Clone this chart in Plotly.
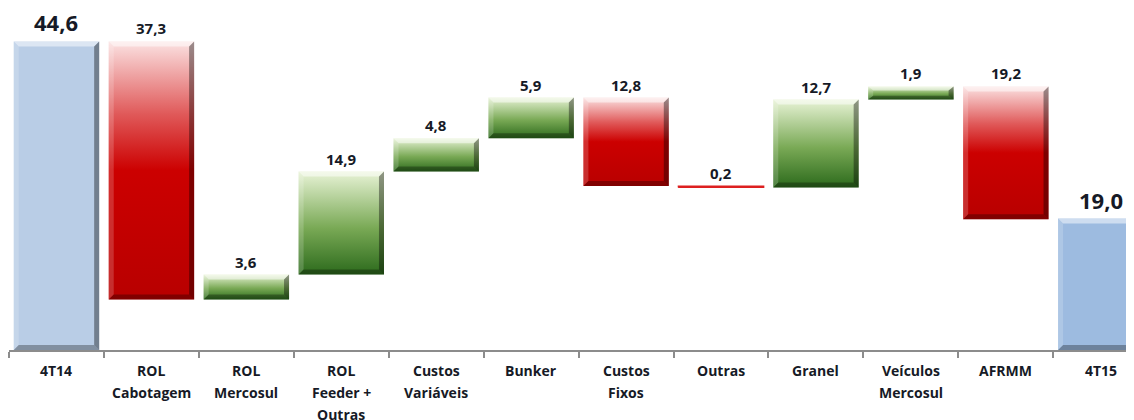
import plotly.graph_objects as go

# ---- data ----
categories = ["4T14", "ROL<br>Cabotagem", "ROL<br>Mercosul", "ROL<br>Feeder +<br>Outras",
              "Custos<br>Variáveis", "Bunker", "Custos<br>Fixos", "Outras", "Granel",
              "Veículos<br>Mercosul", "AFRMM", "4T15"]
values = [44.6, -37.3, 3.6, 14.9, 4.8, 5.9, -12.8, -0.2, 12.7, 1.9, -19.2, 19.0]
measures = ["total", "relative", "relative", "relative", "relative", "relative",
            "relative", "relative", "relative", "relative", "relative", "total"]

# ---- style ----
HALF = 0.45
BX = 0.053
BY = 0.72
blue_colors = {0: "#b9cde6", 11: "#9dbbe0"}
green_scale = [[0, "#2c6a1c"], [0.45, "#79a955"], [1, "#e8f3d6"]]
red_scale = [[0, "#b80000"], [0.5, "#cc0000"], [0.72, "#e05a5a"], [1, "#fbe2e2"]]
FONT = "Open Sans"
TXT = "#161a26"

fig = go.Figure()

running = 0.0
bars = []
for i, (v, m) in enumerate(zip(values, measures)):
    if m == "total":
        y0, y1 = 0.0, v
        running = v
    else:
        prev = running
        running = prev + v
        y0, y1 = min(prev, running), max(prev, running)
    bars.append((i, y0, y1, v, m))

top_pts = {"x": [], "y": []}
right_pts = {"x": [], "y": []}
bot_pts = {"x": [], "y": []}
left_pts = {"x": [], "y": []}

def add_poly(store, pts):
    for px, py in pts:
        store["x"].append(px)
        store["y"].append(py)
    store["x"].append(pts[0][0]); store["y"].append(pts[0][1])
    store["x"].append(None); store["y"].append(None)

for i, y0, y1, v, m in bars:
    x0, x1 = i - HALF, i + HALF
    xs = [x0, x1, x1, x0, x0]
    ys = [y0, y0, y1, y1, y0]
    if m == "total":
        fig.add_trace(go.Scatter(x=xs, y=ys, mode="lines", fill="toself",
                                 fillcolor=blue_colors[i], line=dict(width=0),
                                 hoverinfo="skip", showlegend=False))
    else:
        scale = green_scale if v > 0 else red_scale
        lw = 1.2 if (y1 - y0) < 0.5 else 0
        fig.add_trace(go.Scatter(x=xs, y=ys, mode="lines", fill="toself",
                                 fillgradient=dict(type="vertical", colorscale=scale,
                                                   start=y0, stop=y1),
                                 line=dict(width=lw, color="#dd2020"),
                                 hoverinfo="skip", showlegend=False))
    h = y1 - y0
    if h > 0.5:
        by = min(BY, h * 0.3)
        add_poly(top_pts, [(x0, y1), (x1, y1), (x1 - BX, y1 - by), (x0 + BX, y1 - by)])
        add_poly(right_pts, [(x1, y1), (x1, y0), (x1 - BX, y0 + by), (x1 - BX, y1 - by)])
        add_poly(bot_pts, [(x0, y0), (x1, y0), (x1 - BX, y0 + by), (x0 + BX, y0 + by)])
        add_poly(left_pts, [(x0, y0), (x0, y1), (x0 + BX, y1 - by), (x0 + BX, y0 + by)])

for store, col in [(top_pts, "rgba(255,255,255,0.5)"), (left_pts, "rgba(255,255,255,0.18)"),
                   (right_pts, "rgba(0,0,0,0.38)"), (bot_pts, "rgba(0,0,0,0.3)")]:
    fig.add_trace(go.Scatter(x=store["x"], y=store["y"], mode="lines", fill="toself",
                             fillcolor=col, line=dict(width=0), hoverinfo="skip",
                             showlegend=False, connectgaps=False))

# value labels
for i, y0, y1, v, m in bars:
    txt = f"{abs(v):.1f}".replace(".", ",")
    big = m == "total"
    fig.add_annotation(x=i, y=y1, xref="x", yref="y", text=f"<b>{txt}</b>",
                       showarrow=False, yanchor="bottom",
                       yshift=2 if big else 1,
                       font=dict(family=FONT, size=22 if big else 15, color=TXT))

# category labels
for i, cat in enumerate(categories):
    for j, line in enumerate(cat.split("<br>")):
        fig.add_annotation(x=i, y=0, xref="x", yref="paper", text=f"<b>{line}</b>",
                           showarrow=False, yanchor="middle", yshift=-(20 + 22 * j),
                           font=dict(family=FONT, size=14, color=TXT))

# page has an 8px body margin: size the figure so it ends at the window edge
fig.update_layout(
    width=1126, height=412,
    margin=dict(l=1, r=0, t=0, b=70),
    plot_bgcolor="white", paper_bgcolor="white",
    xaxis=dict(range=[-0.5, 11.35], showgrid=False, zeroline=False,
               showline=True, linecolor="#8c8c8c", linewidth=1.5,
               tickvals=[k - 0.5 for k in range(13)], ticktext=[""] * 13,
               ticks="outside", ticklen=6, tickcolor="#8c8c8c", tickwidth=1.5),
    yaxis=dict(range=[0, 49.44], showgrid=False, zeroline=False, showticklabels=False,
               showline=False),
)

fig.write_html("out.html")
